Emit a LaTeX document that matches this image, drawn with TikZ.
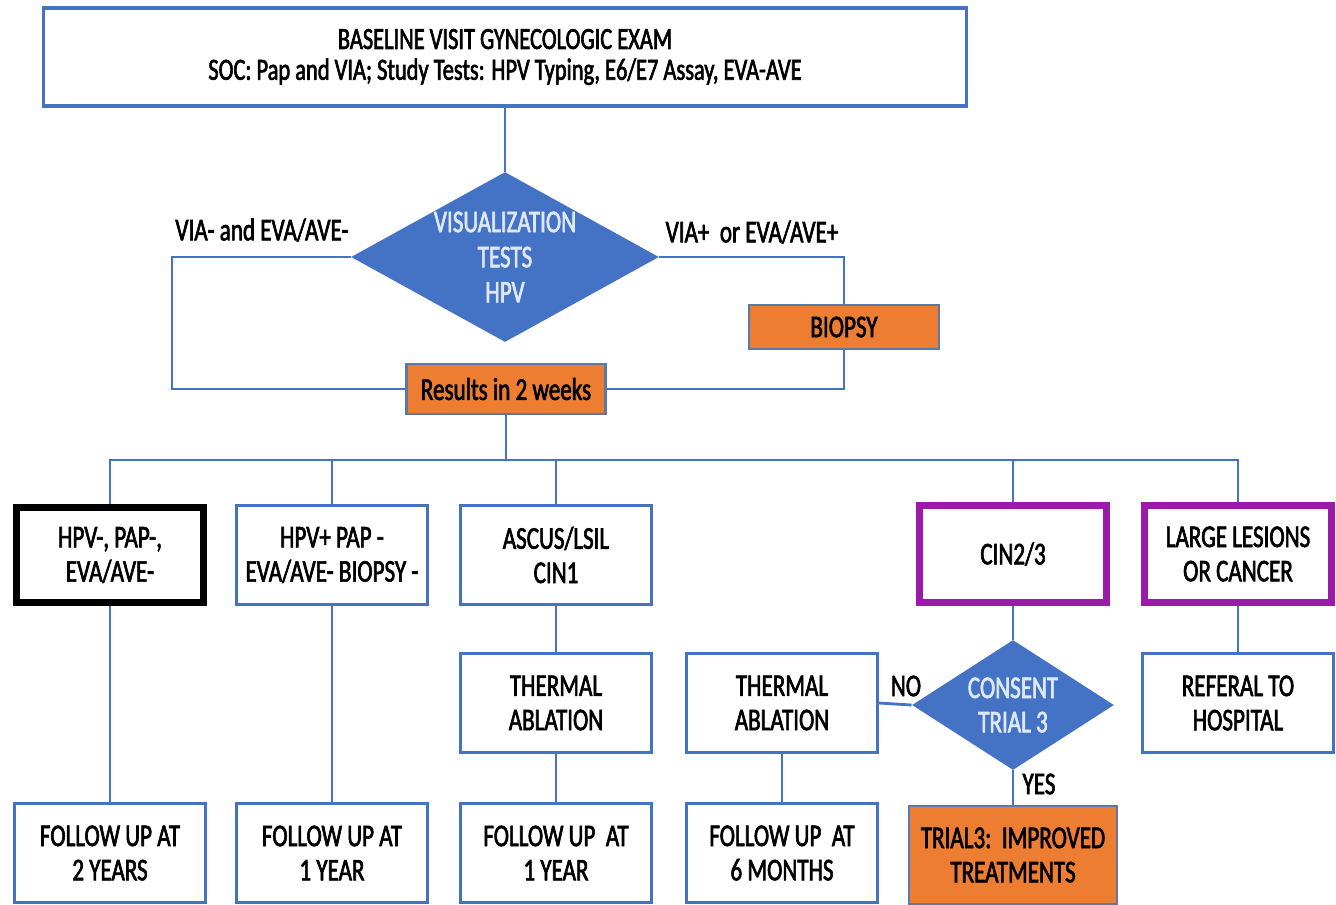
\documentclass[tikz,border=0pt]{standalone}
\usepackage{fontspec}
\setmainfont{Carlito}[FakeStretch=0.73,FakeBold=2]
\usetikzlibrary{shapes.geometric}
\definecolor{lineblue}{HTML}{4472C4}
\definecolor{fillorange}{HTML}{ED7D31}
\definecolor{boxpurple}{HTML}{9C1AAA}
\definecolor{palewhite}{RGB}{222,232,247}
\tikzset{
  box/.style={draw=lineblue, line width=1.8pt, fill=white, align=center,
    minimum width=3.82cm, minimum height=1.98cm, inner sep=2pt,
    font=\fontsize{18}{19.5}\selectfont},
  endbox/.style={box, draw=black, line width=4pt, minimum width=3.75cm, minimum height=1.9cm},
  alertbox/.style={box, draw=boxpurple, line width=4pt, minimum width=3.75cm, minimum height=1.95cm},
  stepbox/.style={box, fill=fillorange, draw=lineblue!60!gray, line width=1.4pt},
  decision/.style={diamond, fill=lineblue, draw=none, text=palewhite, align=center,
    inner sep=0pt, font=\fontsize{18}{19.5}\selectfont},
  link/.style={draw=lineblue, line width=1.6pt},
  tag/.style={font=\fontsize{18}{19.5}\selectfont}
}
\begin{document}
\begin{tikzpicture}[x=0.02cm, y=-0.02cm]
\useasboundingbox (0,0) rectangle (1336,904);

% baseline visit and visualization
\node[box, minimum width=18.46cm, minimum height=1.96cm, font=\fontsize{17.5}{17.5}\selectfont]
  (exam) at (505,57) {BASELINE VISIT GYNECOLOGIC EXAM\\SOC: Pap and VIA; Study Tests: HPV Typing, E6/E7 Assay, EVA-AVE};
\node[decision, minimum width=6.16cm, minimum height=3.4cm, aspect=1.81, font=\fontsize{18}{20}\selectfont]
  (vis) at (505,257) {VISUALIZATION\\TESTS\\HPV};
\node[stepbox, minimum width=3.8cm, minimum height=0.88cm] (biopsy) at (844,327) {BIOPSY};
\node[stepbox, minimum width=3.98cm, minimum height=1.0cm] (results) at (506,389) {Results in 2 weeks};
\node[tag] (neglabel) at (262,230) {VIA- and EVA/AVE-};
\node[tag] (poslabel) at (752,232) {VIA+\ \ or EVA/AVE+};

\coordinate (lcorner) at (172,257);
\coordinate (bus) at (506,460);

% result categories
\node[endbox] (hpvneg) at (110,555) {HPV-, PAP-,\\EVA/AVE-};
\node[box] (hpvpos) at (332,555) {HPV+ PAP -\\EVA/AVE- BIOPSY -};
\node[box] (ascus) at (556,555) {ASCUS/LSIL\\CIN1};
\node[alertbox] (cin) at (1013,554) {CIN2/3};
\node[alertbox] (large) at (1238,554) {LARGE LESIONS\\OR CANCER};

% treatment
\node[box] (therma) at (556,703) {THERMAL\\ABLATION};
\node[box] (thermb) at (782,703) {THERMAL\\ABLATION};
\node[decision, minimum width=4.04cm, minimum height=2.6cm, aspect=1.55] (consent) at (1013,705) {CONSENT\\TRIAL 3};
\node[box] (referal) at (1238,703) {REFERAL TO\\HOSPITAL};
\node[tag] (nolabel) at (906,686) {NO};
\node[tag] (yeslabel) at (1039,784) {YES};

% follow up
\node[box] (fuyears) at (110,853) {FOLLOW UP AT\\2 YEARS};
\node[box] (fuyear) at (332,853) {FOLLOW UP AT\\1 YEAR};
\node[box] (fuyearb) at (556,853) {FOLLOW UP\ \ AT\\1 YEAR};
\node[box] (fumonths) at (782,853) {FOLLOW UP\ \ AT\\6 MONTHS};
\node[stepbox, minimum width=4.16cm, minimum height=1.96cm] (trial) at (1013,855) {TRIAL3:\ \ IMPROVED\\TREATMENTS};

\draw[link] (exam.south) -- (vis.north);
\draw[link] (vis.west) -- (lcorner) |- (results.west);
\draw[link] (vis.east) -| (biopsy.north);
\draw[link] (biopsy.south) |- (results.east);
\draw[link] (results.south) -- (bus);
\foreach \n in {hpvneg,hpvpos,ascus,cin,large}
  \draw[link] (bus) -| (\n.north);
\draw[link] (hpvneg.south) -- (fuyears.north);
\draw[link] (hpvpos.south) -- (fuyear.north);
\draw[link] (ascus.south) -- (therma.north);
\draw[link] (therma.south) -- (fuyearb.north);
\draw[link] (cin.south) -- (consent.north);
\draw[link] (consent.west) -- (thermb.east);
\draw[link] (thermb.south) -- (fumonths.north);
\draw[link] (consent.south) -- (trial.north);
\draw[link] (large.south) -- (referal.north);
\end{tikzpicture}
\end{document}
